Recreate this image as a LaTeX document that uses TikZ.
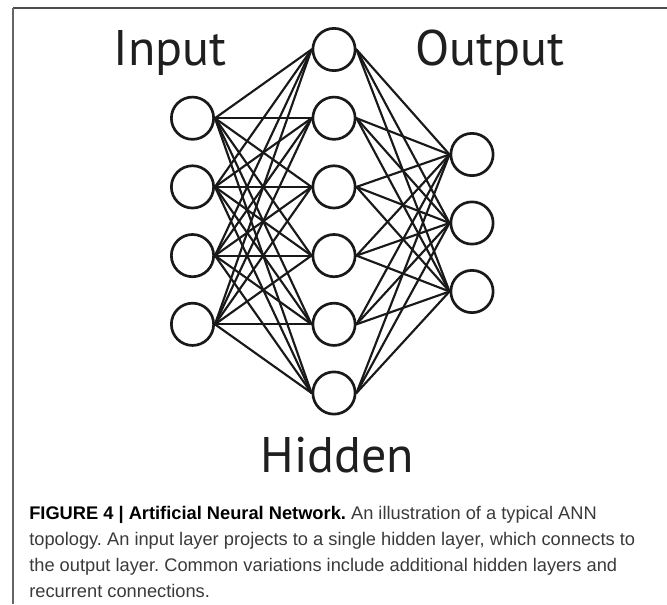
\documentclass[tikz,border=0pt]{standalone}
\usepackage{fontspec}
\setmainfont{Liberation Sans}
\newfontfamily\layerfont{PT Sans}
\definecolor{captiongray}{HTML}{3A3A3A}
\frenchspacing
\begin{document}
\begin{tikzpicture}
      [line cap=round,line join=round,x=0.75pt,y=-0.75pt,
       neuron/.style={circle,draw=black!90,line width=2pt,minimum size=31.7pt,inner sep=0pt},
       synapse/.style={color=black!90,line width=1.6pt},
       layerlabel/.style={font=\layerfont\fontsize{37.5}{40}\selectfont,text=black!88,inner sep=0pt,anchor=base}]

\useasboundingbox (0,0) rectangle (667,604);

%frame of the figure
  \draw[color=black!70,line width=1.5pt,line cap=butt] (13,7.5) -- (667,7.5);
  \draw[color=black!60,line width=1.1pt,line cap=butt] (13,7.5) -- (13,604);

%main layer
%the three layers of neurons
  \foreach \i in {1,...,4} \node[neuron] (in\i) at (192.5,{49.5+68.7*\i}) {};
  \foreach \h in {0,...,5} \node[neuron] (hid\h) at (334,{49.5+68.7*\h}) {};
  \foreach \o in {1,...,3} \node[neuron] (out\o) at (472,{86+68.5*\o}) {};

%every input to every hidden, every hidden to every output
  \foreach \i in {1,...,4}
    \foreach \h in {0,...,5}
      \draw[synapse] (in\i.east) -- (hid\h.west);
  \foreach \h in {0,...,5}
    \foreach \o in {1,...,3}
      \draw[synapse] (hid\h.east) -- (out\o.west);

%layer names
  \node[layerlabel] (inputlabel) at (170,65) {Input};
  \node[layerlabel] (outputlabel) at (490,65) {Output};
  \node[layerlabel] (hiddenlabel) at (337.5,472) {Hidden};

%caption (anchored at the baseline of its last line)
  \node[anchor=base west,inner sep=0pt,align=left,text=captiongray,
        font=\fontsize{13.7}{19.5}\selectfont] (caption) at (29,597)
    {\textbf{\color{black}FIGURE 4 | Artificial Neural Network.} An illustration of a typical ANN\\
     topology. An input layer projects to a single hidden layer, which connects to\\
     the output layer. Common variations include additional hidden layers and\\
     recurrent connections.};

\end{tikzpicture}
\end{document}
